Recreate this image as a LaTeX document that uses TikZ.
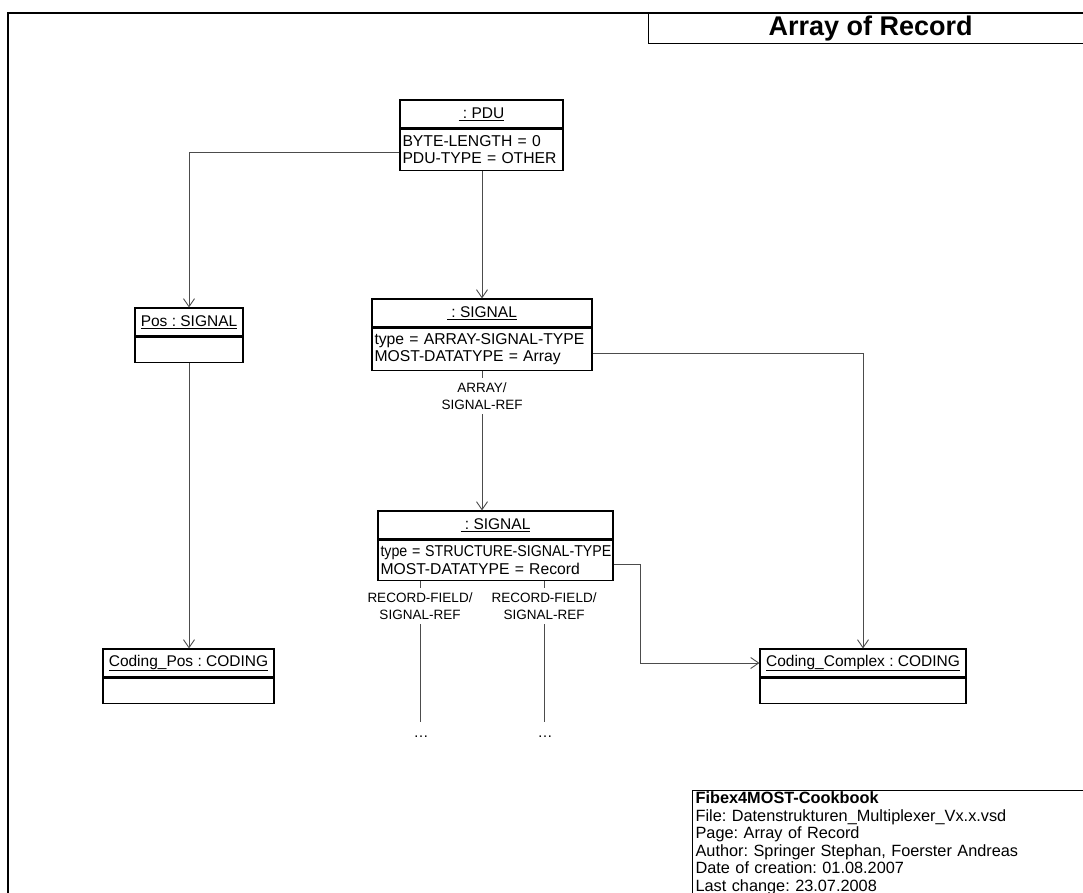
\documentclass[tikz,border=0pt]{standalone}
\usepackage{fontspec}
\usepackage{graphicx}
\setmainfont{Liberation Sans}
\usetikzlibrary{arrows.meta}

% object box: title compartment (underlined name) + attribute compartment
% #1 name, #2 centre x, #3 top y, #4 width, #5 title, #6 attribute height, #7 attributes
\newcommand\umlobj[7]{%
  \pgfmathsetmacro\objtw{#4-5}%
  \node[ttl, minimum width=#4pt] (#1T) at (#2,#3+14) {\underline{#5}};
  \node[att, minimum width=#4pt, text width=\objtw pt, minimum height=#6pt] (#1A) at (#1T.south) {#7};
}

\begin{document}
\frenchspacing
\begin{tikzpicture}[x=1pt, y=-1pt,
  box/.style={draw=black, line width=1.1pt, inner sep=0pt, font=\fontsize{15.5}{17.5}\selectfont},
  ttl/.style={box, minimum height=28pt},
  att/.style={box, anchor=north, align=left, inner xsep=2pt, font=\fontsize{15.7}{17.5}\selectfont},
  conn/.style={draw=black!70, line width=0.9pt},
  arr/.style={conn, -{Straight Barb[length=8pt, width=11pt, line width=0.9pt]}},
  role/.style={inner sep=0pt, minimum height=36pt, align=center, font=\fontsize{13.5}{16.5}\selectfont},
  more/.style={inner sep=0pt, minimum height=30pt, font=\fontsize{15}{17}\selectfont},
  frame/.style={draw=black, line width=1.4pt}]

\useasboundingbox (0,0) rectangle (1083,892);

% sheet frame and title block
\draw[frame] (8,900) |- (1100,13);
\node[draw=black, line width=1.2pt, anchor=north west, minimum width=444pt, minimum height=30pt,
      inner sep=0pt, font=\fontsize{27}{30}\selectfont\bfseries] (title) at (648,13) {Array of Record};

% objects
\umlobj{pdu}{481.5}{100}{163}{\ : PDU}{41}{BYTE-LENGTH = 0\\PDU-TYPE = OTHER}
\umlobj{pos}{189}{308}{108}{Pos : SIGNAL}{25}{}
\umlobj{cpos}{188.5}{649}{171}{Coding\_Pos : CODING}{25}{}
\umlobj{arr}{482}{299}{220}{\ : SIGNAL}{42}{type = ARRAY-SIGNAL-TYPE\\MOST-DATATYPE = Array}
\umlobj{rec}{495.5}{511}{235}{\ : SIGNAL}{40}{\mbox{\scalebox{0.905}[1]{type = STRUCTURE-SIGNAL-TYPE}}\\MOST-DATATYPE = Record}
\umlobj{ccx}{863}{649}{206}{Coding\_Complex : CODING}{25}{}

% role labels and open ends
\node[role] (refA) at (482,396) {ARRAY/\\SIGNAL-REF};
\node[role] (refB) at (420,606) {RECORD-FIELD/\\SIGNAL-REF};
\node[role] (refC) at (544,606) {RECORD-FIELD/\\SIGNAL-REF};
\node[more] (moreB) at (421,737) {\dots};
\node[more] (moreC) at (545,737) {\dots};

% connectors
\draw[arr] ([yshift=-2.5pt]pduA.west) -| (posT.north);
\draw[arr] (pduA.south -| arrT.north) -- (arrT.north);
\draw[arr] (posA.south) -- (posA.south |- cposT.north);
\draw[conn] (refA |- arrA.south) -- (refA);
\draw[arr] (refA) -- (refA |- recT.north);
\draw[arr] ([yshift=-4pt]arrA.east) -| (ccxT.north);
\draw[arr] ([yshift=-4pt]recA.east) -- ++(27,0) |- (ccxT.west);
\draw[conn] (refB |- recA.south) -- (refB);
\draw[conn] (refB) -- (moreB.north -| refB);
\draw[conn] (refC |- recA.south) -- (refC);
\draw[conn] (refC) -- (moreC.north -| refC);

% document info block
\node[draw=black, line width=1.2pt, anchor=north west, align=left, text width=400pt,
      inner xsep=3pt, inner ysep=1pt, font=\fontsize{16.3}{17.6}\selectfont] (info) at (692,790)
  {\textbf{Fibex4MOST-Cookbook}\\
   File: Datenstrukturen\_Multiplexer\_Vx.x.vsd\\
   Page: Array of Record\\
   Author: Springer Stephan, Foerster Andreas\\
   Date of creation: 01.08.2007\\
   Last change: 23.07.2008};
\end{tikzpicture}
\end{document}
